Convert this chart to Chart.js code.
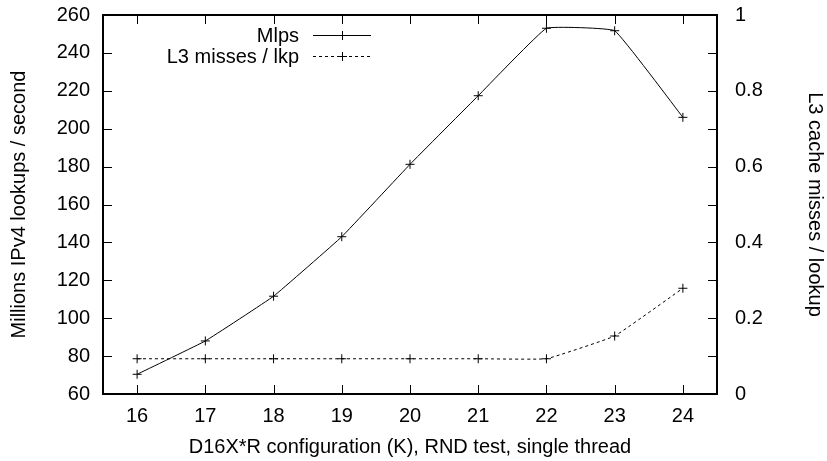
<!DOCTYPE html>
<html>
<head>
<meta charset="utf-8">
<script src="https://cdn.jsdelivr.net/npm/chart.js@4.4.0/dist/chart.umd.min.js"></script>
<style>
    html, body { margin: 0; padding: 0; background: #fff; }
    #wrap { width: 827px; height: 461px; }
</style>
</head>
<body>
<div id="wrap"><canvas id="lookupChart" width="827" height="461"></canvas></div>
<script>
// data
const configs = ['16', '17', '18', '19', '20', '21', '22', '23', '24'];
const mlps = [70.4, 88, 111.6, 143, 181.2, 217.4, 253, 251.7, 206];
const l3Misses = [0.093, 0.093, 0.093, 0.093, 0.093, 0.093, 0.093, 0.153, 0.279];
const leftTicks = [60, 80, 100, 120, 140, 160, 180, 200, 220, 240, 260];
const rightTicks = [0, 0.2, 0.4, 0.6, 0.8, 1];
const rightMinorTicks = [0.1, 0.3, 0.5, 0.7, 0.9];

const FONT = "'Liberation Sans', Arial, sans-serif";
const FSIZE = 20;

/* gnuplot style frame: border + inward ticks on all sides */
const framePlugin = {
    id: 'frame',
    afterDraw(chart) {
        const ctx = chart.ctx;
        const a = chart.chartArea;
        const x = chart.scales.x, y = chart.scales.y, y2 = chart.scales.y2;
        const tl = 9;
        ctx.save();
        ctx.strokeStyle = '#000';
        ctx.lineWidth = 1;
        ctx.beginPath();
        configs.forEach((c, i) => {
            const px = Math.round(x.getPixelForValue(i)) + 0.5;
            ctx.moveTo(px, a.bottom); ctx.lineTo(px, a.bottom - tl);
            ctx.moveTo(px, a.top); ctx.lineTo(px, a.top + tl);
        });
        leftTicks.forEach(v => {
            const py = Math.round(y.getPixelForValue(v)) + 0.5;
            ctx.moveTo(a.left, py); ctx.lineTo(a.left + tl, py);
        });
        rightTicks.concat(rightMinorTicks).forEach(v => {
            const py = Math.round(y2.getPixelForValue(v)) + 0.5;
            ctx.moveTo(a.right, py); ctx.lineTo(a.right - tl, py);
        });
        ctx.stroke();
        ctx.lineWidth = 2;
        ctx.strokeRect(a.left, a.top, a.right - a.left, a.bottom - a.top);
        ctx.restore();
    }
};

/* key in gnuplot layout: text on the left, sample on the right */
const keyPlugin = {
    id: 'key',
    afterDraw(chart) {
        const ctx = chart.ctx;
        const a = chart.chartArea;
        const textRight = a.left + 196;
        const lineStart = textRight + 14;
        const lineEnd = lineStart + 58;
        ctx.save();
        ctx.font = FSIZE + 'px ' + FONT;
        ctx.textAlign = 'right';
        ctx.textBaseline = 'middle';
        chart.data.datasets.forEach((ds, i) => {
            const cy = a.top + 20 + i * 21;
            ctx.fillStyle = '#000';
            ctx.fillText(ds.label, textRight, cy + 1);
            ctx.strokeStyle = ds.borderColor;
            ctx.lineWidth = ds.borderWidth;
            ctx.setLineDash(ds.borderDash || []);
            ctx.beginPath();
            ctx.moveTo(lineStart, cy + 0.5);
            ctx.lineTo(lineEnd, cy + 0.5);
            ctx.stroke();
            ctx.setLineDash([]);
            const mx = Math.round((lineStart + lineEnd) / 2) + 0.5;
            const r = ds.pointRadius;
            ctx.beginPath();
            ctx.moveTo(mx - r, cy + 0.5); ctx.lineTo(mx + r, cy + 0.5);
            ctx.moveTo(mx, cy - r + 0.5); ctx.lineTo(mx, cy + r + 0.5);
            ctx.stroke();
        });
        ctx.restore();
    }
};

function noEdgePadding(s) {
    s.paddingTop = 0; s.paddingBottom = 0;
    s.paddingLeft = 0; s.paddingRight = 0;
}

new Chart(document.getElementById('lookupChart'), {
    type: 'line',
    data: {
        labels: configs,
        datasets: [{
            label: 'Mlps',
            data: mlps,
            yAxisID: 'y',
            borderColor: '#000',
            borderWidth: 1,
            pointStyle: 'cross',
            pointRadius: 4.5,
            pointBorderColor: '#000',
            pointBorderWidth: 1,
            tension: 0.08,
            fill: false
        }, {
            label: 'L3 misses / lkp',
            data: l3Misses,
            yAxisID: 'y2',
            borderColor: '#000',
            borderWidth: 1,
            borderDash: [3, 3],
            pointStyle: 'cross',
            pointRadius: 4.5,
            pointBorderColor: '#000',
            pointBorderWidth: 1,
            tension: 0.08,
            fill: false
        }]
    },
    options: {
        responsive: false,
        animation: false,
        devicePixelRatio: 1,
        layout: { padding: { top: 15, left: 0, right: 0, bottom: 0 } },
        plugins: { legend: { display: false }, tooltip: { enabled: false } },
        scales: {
            x: {
                type: 'category',
                offset: true,
                grid: { display: false, drawTicks: false },
                border: { display: false },
                ticks: { color: '#000', font: { family: FONT, size: FSIZE }, padding: 10, autoSkip: false, maxRotation: 0 },
                title: {
                    display: true,
                    text: 'D16X*R configuration (K), RND test, single thread',
                    color: '#000',
                    font: { family: FONT, size: FSIZE },
                    padding: { top: 0, bottom: 2 }
                },
                afterFit(s) { s.height = 67; noEdgePadding(s); }
            },
            y: {
                position: 'left',
                min: 60, max: 260,
                afterBuildTicks(s) { s.ticks = leftTicks.map(v => ({ value: v })); },
                grid: { display: false, drawTicks: false },
                border: { display: false },
                ticks: { color: '#000', font: { family: FONT, size: FSIZE }, padding: 13 },
                title: {
                    display: true,
                    text: 'Millions IPv4 lookups / second',
                    color: '#000',
                    font: { family: FONT, size: FSIZE },
                    padding: { top: 7, bottom: 0 }
                },
                afterFit(s) { s.width = 103; noEdgePadding(s); }
            },
            y2: {
                position: 'right',
                min: 0, max: 1,
                afterBuildTicks(s) { s.ticks = rightTicks.map(v => ({ value: v })); },
                grid: { display: false, drawTicks: false },
                border: { display: false },
                ticks: {
                    color: '#000', font: { family: FONT, size: FSIZE }, padding: 18,
                    callback: v => String(Math.round(v * 10) / 10)
                },
                title: {
                    display: true,
                    text: 'L3 cache misses / lookup',
                    color: '#000',
                    font: { family: FONT, size: FSIZE },
                    padding: { top: 0, bottom: 0 }
                },
                afterFit(s) { s.width = 110; noEdgePadding(s); }
            }
        }
    },
    plugins: [framePlugin, keyPlugin]
});
</script>
</body>
</html>
